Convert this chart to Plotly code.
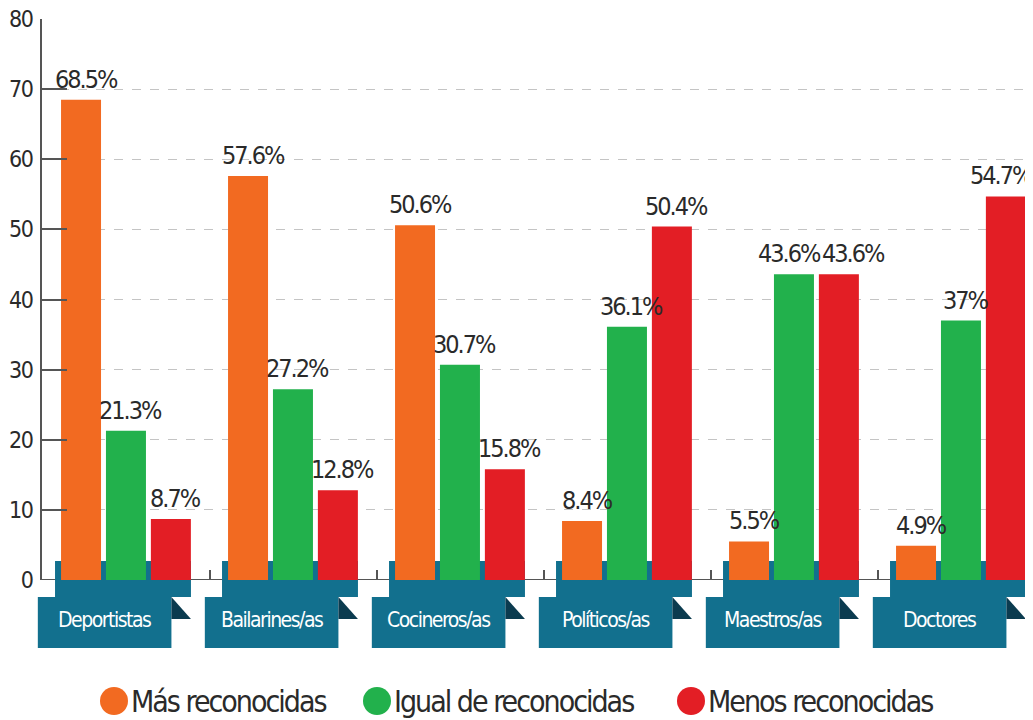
import plotly.graph_objects as go

categories = ["Deportistas", "Bailarines/as", "Cocineros/as", "Políticos/as", "Maestros/as", "Doctores"]
mas = [68.5, 57.6, 50.6, 8.4, 5.5, 4.9]
igual = [21.3, 27.2, 30.7, 36.1, 43.6, 37]
menos = [8.7, 12.8, 15.8, 50.4, 43.6, 54.7]
series_names = ["Más reconocidas", "Igual de reconocidas", "Menos reconocidas"]
y_ticks = [0, 10, 20, 30, 40, 50, 60, 70, 80]

COLORS = ["#f26a21", "#22b14c", "#e31e25"]
TEAL = "#12708e"
DARK = "#0b3b4f"
TXT = "#2a2a2a"
FONT = "DejaVu Sans Condensed, Liberation Sans Narrow, Arial Narrow, sans-serif"

def tight(s, ls):
    return f'<span style="letter-spacing:{ls}px">{s}</span>'

# page body has an 8px margin; figure is sized to fill the remaining window
PAGE_OFF = 8
W, H = 1033 - PAGE_OFF, 720 - PAGE_OFF
PL, PT, PR, PB = 42, 19, 1033, 580  # plot area in page pixels
ML, MT = PL - PAGE_OFF, PT - PAGE_OFF
MR, MB = 1033 - PR, 720 - PB
PW, PH = PR - PL, PB - PT
XR0 = -0.503
XR1 = XR0 + PW / 167.0

BW = 0.2395
offsets = [-0.389, -0.12, 0.149]

def xp(v):
    return (v - XR0) / (XR1 - XR0)

def pxp(px):
    return (px - PL) / PW

def pyp(py):
    return (PB - py) / PH

x = list(range(len(categories)))
fig = go.Figure()
for vals, name, col, off in zip([mas, igual, menos], series_names, COLORS, offsets):
    fig.add_trace(go.Bar(x=x, y=vals, name=name, marker=dict(color=col, line=dict(width=0)),
                         width=BW, offset=off, showlegend=False))

# label nudges to keep labels apart / inside the page: (series index, category index) -> px
nudge = {(1, 4): -9, (2, 4): 10, (2, 5): -9}

shapes = []
annotations = []
shapes.append(dict(type="line", xref="paper", yref="y", x0=0, x1=1, y0=0, y1=0,
                   line=dict(color="#555", width=2), layer="below"))
for i, cat in enumerate(categories):
    shapes.append(dict(type="rect", xref="paper", yref="paper",
                       x0=xp(i - 0.425), x1=xp(i + 0.389), y0=pyp(597), y1=pyp(561),
                       fillcolor=TEAL, line=dict(width=0), layer="below"))
    shapes.append(dict(type="rect", xref="paper", yref="paper",
                       x0=xp(i - 0.528), x1=xp(i + 0.272), y0=pyp(648), y1=pyp(597),
                       fillcolor=TEAL, line=dict(width=0), layer="below"))
    a, b = xp(i + 0.272), xp(i + 0.389)
    t, u = pyp(597), pyp(619)
    shapes.append(dict(type="path", xref="paper", yref="paper",
                       path=f"M {a} {t} L {b} {u} L {a} {u} Z",
                       fillcolor=DARK, line=dict(width=0), layer="below"))
    annotations.append(dict(x=xp(i - 0.128), y=pyp(620), xref="paper", yref="paper",
                            text=tight(cat, -1.5), showarrow=False, xanchor="center",
                            yanchor="middle",
                            font=dict(family=FONT, size=21, color="white")))
    for s, (vals, off) in enumerate(zip([mas, igual, menos], offsets)):
        v = vals[i]
        annotations.append(dict(x=i + off + BW / 2, y=v, xref="x", yref="y",
                                text=tight(f"{v:g}%", -2), showarrow=False, xanchor="center",
                                yanchor="bottom", yshift=4, xshift=5 + nudge.get((s, i), 0),
                                font=dict(family=FONT, size=25, color=TXT)))

leg_px = [114, 377, 691]
for name, col, cx in zip(series_names, COLORS, leg_px):
    shapes.append(dict(type="circle", xref="paper", yref="paper", xsizemode="pixel",
                       ysizemode="pixel", xanchor=pxp(cx), yanchor=pyp(701),
                       x0=-14, x1=14, y0=-14, y1=14, fillcolor=col, line=dict(width=0)))
    annotations.append(dict(x=pxp(cx + 15), y=pyp(701), xref="paper", yref="paper",
                            text=tight(name, -2), showarrow=False, xanchor="left",
                            yanchor="middle",
                            font=dict(family=FONT, size=30, color=TXT)))

fig.update_layout(
    width=W, height=H, margin=dict(l=ML, r=MR, t=MT, b=MB, pad=0, autoexpand=False),
    paper_bgcolor="white", plot_bgcolor="white",
    barmode="overlay", showlegend=False,
    shapes=shapes, annotations=annotations,
    xaxis=dict(range=[XR0, XR1], tickvals=[0.5, 1.5, 2.5, 3.5, 4.5], showticklabels=False,
               ticks="inside", ticklen=10, tickwidth=2, tickcolor="#555", automargin=False,
               showgrid=False, zeroline=False, showline=False, fixedrange=True),
    yaxis=dict(range=[0, 80], tickvals=y_ticks, ticktext=[tight(str(t), -1.5) for t in y_ticks],
               ticks="inside", ticklen=25, tickwidth=2, tickcolor="#555",
               showline=True, linecolor="#555", linewidth=2,
               showgrid=True, gridcolor="#c4c4c4", griddash="dash", gridwidth=1,
               zeroline=False, tickfont=dict(family=FONT, size=23, color=TXT),
               ticklabelstandoff=3, ticklabeloverflow="allow", automargin=False,
               fixedrange=True),
)
fig.write_html("out.html")
